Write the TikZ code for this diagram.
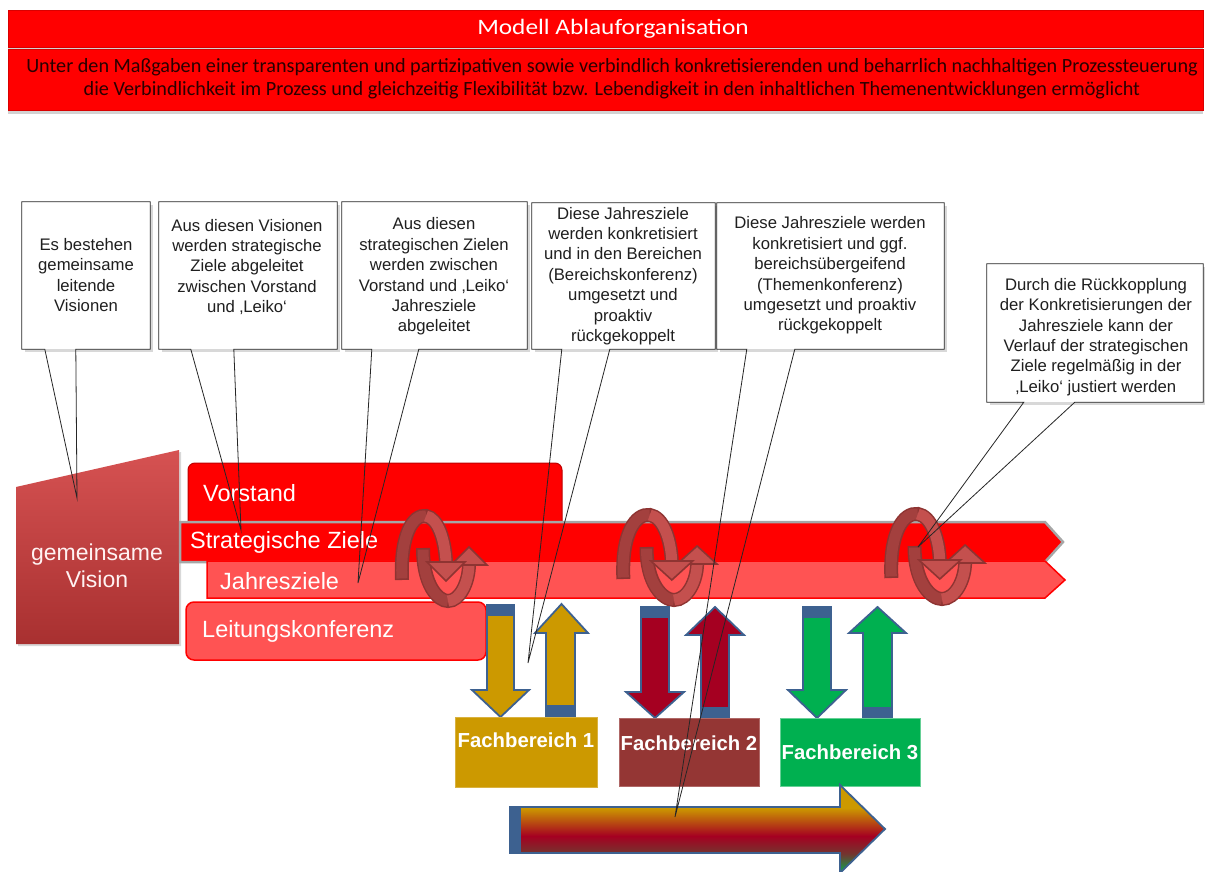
\documentclass[tikz,border=0pt]{standalone}
\usepackage{fontspec}
\setmainfont{Liberation Sans}
\newfontfamily\calib{Carlito}
\usetikzlibrary{shadows,calc}
\definecolor{hdrred}{HTML}{FF0000}
\definecolor{darkred}{HTML}{C00000}
\definecolor{lightred}{HTML}{FF5353}
\definecolor{loopdark}{HTML}{8E3432}
\definecolor{loopmid}{HTML}{A3403E}
\definecolor{looplight}{HTML}{C4504E}
\definecolor{bluegray}{HTML}{3D6190}
\definecolor{gold}{HTML}{CC9900}
\definecolor{crimson}{HTML}{A50021}
\definecolor{fbgreen}{HTML}{00B050}
\definecolor{fbbrown}{HTML}{943634}
\definecolor{subtxt}{HTML}{2A0000}
\pgfdeclareverticalshading{bigarrowshade}{100bp}{color(0bp)=(fbgreen); color(27bp)=(fbgreen!85!crimson); color(36bp)=(crimson!70!fbgreen); color(46bp)=(crimson); color(54bp)=(crimson!50!gold); color(62bp)=(gold); color(100bp)=(gold)}
\tikzset{
  ringloop/.pic={
    \draw[bandout] (-15,-12) .. controls (-15,25) and (0,41) .. (10,41) .. controls (22,41) and (31,22) .. (31,4);
    \draw[bandin, draw=loopmid, shorten <=1.6pt] (-15,-12) .. controls (-15,25) and (0,41) .. (10,41);
    \draw[bandin] (10,41) .. controls (22,41) and (31,22) .. (31,4);
    \draw[loophead] (13,5) -- (49,5) -- (31,-13) -- cycle;
    \draw[bandout] (-36,20) .. controls (-38,-25) and (-25,-46) .. (-12,-44) .. controls (0,-42) and (7,-20) .. (8,2);
    \draw[bandin, draw=loopmid, shorten <=1.6pt] (-36,20) .. controls (-38,-25) and (-25,-46) .. (-12,-44);
    \draw[bandin] (-12,-44) .. controls (0,-42) and (7,-20) .. (8,2);
    \draw[loophead] (-11,2) -- (27,2) -- (8,21) -- cycle;
  }
}
\begin{document}
\begin{tikzpicture}[x=1pt,y=-1pt,
  hdr/.style={fill=hdrred, draw=hdrred!85!black, line width=0.6pt, inner sep=0pt, drop shadow={opacity=0.35,shadow xshift=0pt,shadow yshift=-4pt}},
  cbox/.style={fill=white, draw=none, inner sep=0pt, drop shadow={opacity=0.3,shadow xshift=2.5pt,shadow yshift=-2.5pt}},
  callout/.style={draw=black!85, line width=0.8pt, line join=miter},
  ctext/.style={align=center, inner sep=0pt, text=black!88, font=\fontsize{16.7}{20.4}\selectfont},
  barlabel/.style={anchor=west, inner sep=0pt, text=white, font=\fontsize{23.5}{27}\selectfont},
  fbbox/.style={inner sep=0pt, line width=0.8pt},
  fbtext/.style={text=white, font=\bfseries\fontsize{20.3}{24}\selectfont, inner sep=0pt},
  fbarrow/.style={draw=bluegray, line width=1.8pt, line join=miter},
  bandout/.style={draw=loopdark, line width=14pt},
  bandin/.style={draw=looplight, line width=11pt},
  loophead/.style={fill=looplight, draw=loopdark, line width=1.6pt, line join=miter},
]
\useasboundingbox (0,0) rectangle (1205,872);
\fill[white] (0,0) rectangle (1205,872);

% header
\node[hdr, minimum width=1195pt, minimum height=37pt] (title) at (605.5,28.5) {};
\node[hdr, minimum width=1195pt, minimum height=61pt] (sub) at (605.5,79.5) {};
\node[text=white, inner sep=0pt, xscale=1.15, font=\calib\fontsize{22}{25}\selectfont] (titletext) at (613,29) {Modell Ablauforganisation};
\node[align=center, inner sep=0pt, text=subtxt, font=\calib\fontsize{20.2}{23}\selectfont] (subtext) at (612,78.5) {Unter den Maßgaben einer transparenten und partizipativen sowie verbindlich konkretisierenden und beharrlich nachhaltigen Prozessteuerung\\die Verbindlichkeit im Prozess und gleichzeitig Flexibilität bzw. Lebendigkeit in den inhaltlichen Themenentwicklungen ermöglicht};

% vision shape
\shade[top color={rgb,255:red,214;green,82;blue,82}, bottom color={rgb,255:red,168;green,48;blue,48}, drop shadow={opacity=0.3,shadow xshift=2pt,shadow yshift=-2pt}] (16,487) -- (179,450) -- (179,644) -- (16,644) -- cycle;
\node[align=center, inner sep=0pt, text=white!95!red, font=\fontsize{23}{27}\selectfont] (vision) at (97,566) {gemeinsame\\Vision};

% bars
\filldraw[fill=hdrred, draw=darkred, line width=1pt, rounded corners=7pt] (188,530) -- (188,463) -- (562,463) -- (562,530) -- cycle;
\filldraw[fill=hdrred, draw=gray!70, line width=2.5pt] (180,522) -- (1045,522) -- (1063,542) -- (1045,562) -- (180,562) -- cycle;
\filldraw[fill=lightred, draw=hdrred, line width=1.5pt] (207,561) -- (1045,561) -- (1065,580) -- (1045,598) -- (207,598) -- cycle;
\filldraw[fill=lightred, draw=hdrred, line width=1.5pt, rounded corners=8pt] (186,602) rectangle (486,660);
\node[barlabel] (vorstand) at (203,493) {Vorstand};
\node[barlabel] (strat) at (190,542) {Strategische Ziele};
\node[barlabel] (jahr) at (220,581) {Jahresziele};
\node[barlabel] (leiko) at (202,631) {Leitungskonferenz};

% loops
\pic at (438,560) {ringloop};
\pic[xscale=1.1] at (663,559) {ringloop};
\pic[xscale=1.1] at (931,558) {ringloop};

% Fachbereich arrows
\filldraw[fbarrow, fill=gold] (487,605) -- (514,605) -- (514,690) -- (529,690) -- (500.5,717) -- (472,690) -- (487,690) -- cycle;
\fill[bluegray] (487,605) rectangle (514,616);
\filldraw[fbarrow, fill=gold] (546,716) -- (546,633) -- (535,633) -- (561.5,604) -- (588,633) -- (575,633) -- (575,716) -- cycle;
\fill[bluegray] (546,705) rectangle (575,716);

\filldraw[fbarrow, fill=crimson] (641,607) -- (669,607) -- (669,692) -- (684,692) -- (655,718) -- (626,692) -- (641,692) -- cycle;
\fill[bluegray] (641,607) rectangle (669,618);
\filldraw[fbarrow, fill=crimson] (701,718) -- (701,635) -- (686,635) -- (715,607) -- (744,635) -- (729,635) -- (729,718) -- cycle;
\fill[bluegray] (701,707) rectangle (729,718);

\filldraw[fbarrow, fill=fbgreen] (803,607) -- (831,607) -- (831,690) -- (846,690) -- (817,718) -- (788,690) -- (803,690) -- cycle;
\fill[bluegray] (803,607) rectangle (831,618);
\filldraw[fbarrow, fill=fbgreen] (863,718) -- (863,633) -- (849,633) -- (877.5,607) -- (906,633) -- (892,633) -- (892,718) -- cycle;
\fill[bluegray] (863,707) rectangle (892,718);

% Fachbereich boxes
\node[fbbox, fill=gold, draw=gold!75!white, minimum width=142pt, minimum height=70pt] (fb1) at (526,752) {};
\node[fbbox, fill=fbbrown, draw=fbbrown!75!white, minimum width=140pt, minimum height=68pt] (fb2) at (689,752) {};
\node[fbbox, fill=fbgreen, draw=fbgreen!60!white, minimum width=140pt, minimum height=68pt] (fb3) at (850,752) {};
\node[fbtext] (fb1t) at (526,740) {Fachbereich 1};
\node[fbtext] (fb2t) at (689,743) {Fachbereich 2};
\node[fbtext] (fb3t) at (850,752) {Fachbereich 3};

% big arrow
\shadedraw[shading=bigarrowshade, draw=bluegray, line width=1.8pt, line join=miter] (510,807) -- (840,807) -- (840,785) -- (885,829) -- (840,873) -- (840,853) -- (510,853) -- cycle;
\fill[bluegray] (510,807) rectangle (521,853);

% callouts
\coordinate (t1) at (77,498);
\coordinate (t2) at (241,530);
\coordinate (t3) at (358,583);
\coordinate (t4) at (528,663);
\coordinate (t5) at (675,817);
\coordinate (t6) at (918,547);

\node[cbox, minimum width=128pt, minimum height=147pt] (b1) at (86,275.5) {};
\node[cbox, minimum width=178pt, minimum height=147pt] (b2) at (248,275.5) {};
\node[cbox, minimum width=185pt, minimum height=147pt] (b3) at (434.5,275.5) {};
\node[cbox, minimum width=183pt, minimum height=146pt] (b4) at (623.5,276) {};
\node[cbox, minimum width=227pt, minimum height=146pt] (b5) at (830.5,276) {};
\node[cbox, minimum width=216pt, minimum height=138pt] (b6) at (1095,333) {};

\draw[callout] (b1.south west) -- (b1.north west) -- (b1.north east) -- (b1.south east) -- ($(b1.south west)+(54,0)$) -- (t1) -- ($(b1.south west)+(23,0)$) -- cycle;
\draw[callout] (b2.south west) -- (b2.north west) -- (b2.north east) -- (b2.south east) -- ($(b2.south west)+(75,0)$) -- (t2) -- ($(b2.south west)+(32,0)$) -- cycle;
\draw[callout] (b3.south west) -- (b3.north west) -- (b3.north east) -- (b3.south east) -- ($(b3.south west)+(77,0)$) -- (t3) -- ($(b3.south west)+(30,0)$) -- cycle;
\draw[callout] (b4.south west) -- (b4.north west) -- (b4.north east) -- (b4.south east) -- ($(b4.south west)+(78,0)$) -- (t4) -- ($(b4.south west)+(30,0)$) -- cycle;
\draw[callout] (b5.south west) -- (b5.north west) -- (b5.north east) -- (b5.south east) -- ($(b5.south west)+(78,0)$) -- (t5) -- ($(b5.south west)+(30,0)$) -- cycle;
\draw[callout] (b6.south west) -- (b6.north west) -- (b6.north east) -- (b6.south east) -- ($(b6.south west)+(88,0)$) -- (t6) -- ($(b6.south west)+(37,0)$) -- cycle;

\node[ctext] (b1t) at (86,275) {Es bestehen\\gemeinsame\\leitende\\Visionen};
\node[ctext] (b2t) at (247,267) {Aus diesen Visionen\\werden strategische\\Ziele abgeleitet\\zwischen Vorstand\\und ‚Leiko‘};
\node[ctext] (b3t) at (434,276.5) {Aus diesen\\strategischen Zielen\\werden zwischen\\Vorstand und ‚Leiko‘\\Jahresziele\\abgeleitet};
\node[ctext] (b4t) at (623,276) {Diese Jahresziele\\werden konkretisiert\\und in den Bereichen\\(Bereichskonferenz)\\umgesetzt und\\proaktiv\\rückgekoppelt};
\node[ctext] (b5t) at (830,275.5) {Diese Jahresziele werden\\konkretisiert und ggf.\\bereichsübergeifend\\(Themenkonferenz)\\umgesetzt und proaktiv\\rückgekoppelt};
\node[ctext] (b6t) at (1096,337) {Durch die Rückkopplung\\der Konkretisierungen der\\Jahresziele kann der\\Verlauf der strategischen\\Ziele regelmäßig in der\\‚Leiko‘ justiert werden};
\end{tikzpicture}
\end{document}
